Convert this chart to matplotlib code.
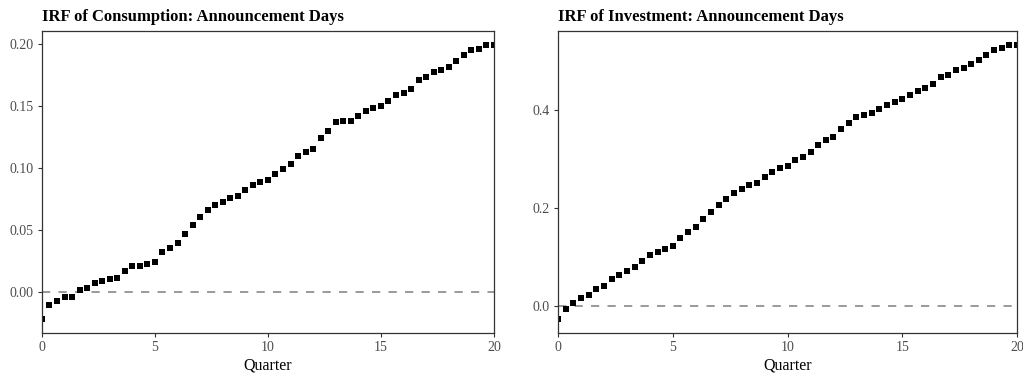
import numpy as np
import matplotlib
matplotlib.use("Agg")
from matplotlib import pyplot as plt
from matplotlib.ticker import FormatStrFormatter

plt.rcParams['font.family'] = ['Liberation Serif', 'DejaVu Serif']

# monthly horizon, expressed in quarters (0, 1/3, ..., 20)
quarter = np.arange(61) / 3.0

irf_consumption = [
    -0.0220, -0.0105, -0.0070, -0.0043, -0.0043, 0.0016, 0.0030, 0.0073, 0.0086, 0.0102,
    0.0116, 0.0167, 0.0210, 0.0212, 0.0229, 0.0245, 0.0325, 0.0355, 0.0392, 0.0465,
    0.0538, 0.0608, 0.0659, 0.0699, 0.0731, 0.0758, 0.0772, 0.0825, 0.0868, 0.0887,
    0.0903, 0.0957, 0.0990, 0.1035, 0.1097, 0.1127, 0.1151, 0.1244, 0.1304, 0.1374,
    0.1379, 0.1384, 0.1425, 0.1462, 0.1489, 0.1506, 0.1540, 0.1589, 0.1607, 0.1637,
    0.1710, 0.1737, 0.1780, 0.1790, 0.1820, 0.1865, 0.1911, 0.1954, 0.1965, 0.1997,
    0.1992,
]

irf_investment = [
    -0.0270, -0.0070, 0.0060, 0.0156, 0.0217, 0.0340, 0.0416, 0.0553, 0.0635, 0.0723,
    0.0791, 0.0928, 0.1051, 0.1107, 0.1168, 0.1236, 0.1400, 0.1508, 0.1610, 0.1775,
    0.1932, 0.2061, 0.2193, 0.2301, 0.2383, 0.2465, 0.2520, 0.2643, 0.2746, 0.2813,
    0.2866, 0.2977, 0.3053, 0.3156, 0.3299, 0.3387, 0.3455, 0.3619, 0.3742, 0.3873,
    0.3914, 0.3947, 0.4029, 0.4105, 0.4180, 0.4227, 0.4309, 0.4398, 0.4459, 0.4535,
    0.4672, 0.4725, 0.4828, 0.4869, 0.4939, 0.5033, 0.5123, 0.5225, 0.5266, 0.5328,
    0.5340,
]

titles = ["IRF of Consumption: Announcement Days", "IRF of Investment: Announcement Days"]
yticks = [[0.00, 0.05, 0.10, 0.15, 0.20], [0.0, 0.2, 0.4]]
yfmt = ['%.2f', '%.1f']

fig = plt.figure(figsize=(10.23, 3.74), dpi=100)
ax1 = fig.add_axes([0.041, 0.1096, 0.4418, 0.8075])
ax2 = fig.add_axes([0.5455, 0.1096, 0.4487, 0.8075])

for ax, y, title, yt, fmt in zip([ax1, ax2], [irf_consumption, irf_investment], titles, yticks, yfmt):
    y = np.array(y)
    ax.axhline(0, color='#7f7f7f', lw=1.1, linestyle=(0, (5.4, 5.4)), zorder=1)
    ax.plot(quarter, y, 's', color='black', markersize=5, markeredgewidth=0, zorder=2)
    ax.set_xlim(0, 20)
    pad = 0.05 * (y.max() - y.min())
    ax.set_ylim(y.min() - pad, y.max() + pad)
    ax.set_xticks([0, 5, 10, 15, 20])
    ax.set_yticks(yt)
    ax.yaxis.set_major_formatter(FormatStrFormatter(fmt))
    ax.tick_params(colors='#333333', labelcolor='#4d4d4d', labelsize=10, length=3, width=0.8, pad=3)
    for s in ax.spines.values():
        s.set_color('#333333')
        s.set_linewidth(0.9)
    ax.set_xlabel('Quarter', fontsize=11.5, color='black', labelpad=2)
    ax.set_title(title, loc='left', fontsize=12, fontweight='bold', pad=7)

fig.savefig('out.png', dpi=100)
